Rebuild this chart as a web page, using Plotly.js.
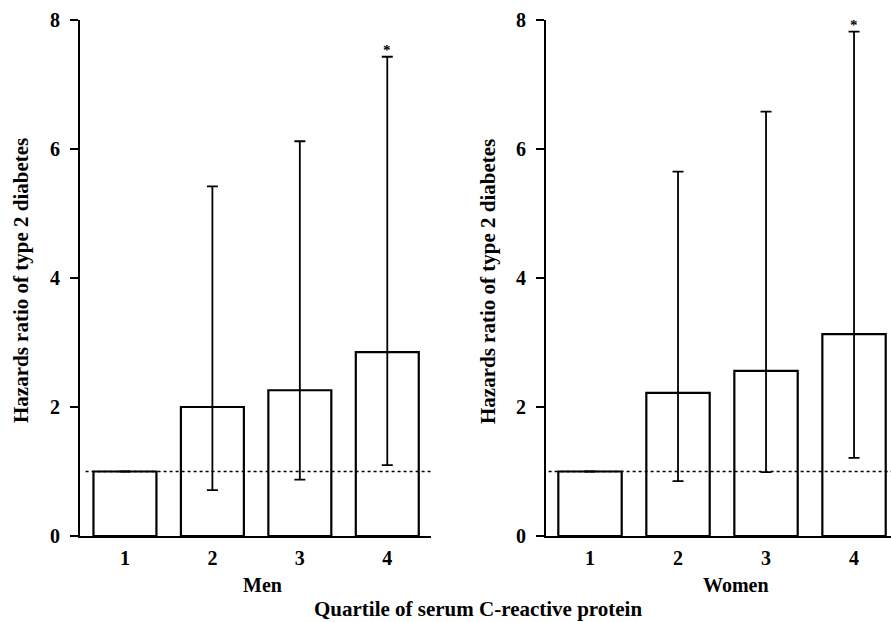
<!DOCTYPE html>
<html>
<head>
<meta charset="utf-8">
<script src="https://cdn.plot.ly/plotly-3.0.1.min.js"></script>
<style>html,body{margin:0;padding:0;background:#fff;}#chart{width:891px;height:622px;}</style>
</head>
<body>
<div id="chart"></div>
<script>
// ---- data ----
var quartiles = [1, 2, 3, 4];
var quartileLabels = ['1', '2', '3', '4'];
var menHR = [1.0, 2.0, 2.26, 2.85];
var menUpper = [null, 5.42, 6.12, 7.43];
var menLower = [null, 0.71, 0.875, 1.10];
var womenHR = [1.0, 2.22, 2.56, 3.13];
var womenUpper = [null, 5.65, 6.58, 7.82];
var womenLower = [null, 0.85, 0.99, 1.21];
var significant = [false, false, false, true];
var yTicks = [0, 2, 4, 6, 8];
var referenceHR = 1;

var W = 891, H = 622;
var FONT = 'Liberation Serif, Times New Roman, serif';
function px(x) { return x / W; }
function py(y) { return 1 - y / H; }

function barTrace(vals, up, lo, xa, ya) {
  return {
    type: 'bar', x: quartiles, y: vals, xaxis: xa, yaxis: ya,
    width: 0.72,
    marker: { color: '#ffffff', line: { color: '#000', width: 2.2 } },
    error_y: {
      type: 'data', symmetric: false,
      array: vals.map(function (v, i) { return up[i] == null ? null : up[i] - v; }),
      arrayminus: vals.map(function (v, i) { return lo[i] == null ? null : v - lo[i]; }),
      color: '#000', thickness: 1.8, width: 5.5,
      visible: true
    },
    hoverinfo: 'x+y', showlegend: false
  };
}

var traces = [
  barTrace(menHR, menUpper, menLower, 'x', 'y'),
  barTrace(womenHR, womenUpper, womenLower, 'x2', 'y2')
];

var tickFont = { family: FONT, size: 20, color: '#000', weight: 'bold' };
var yAxisBase = {
  range: [0, 8], tickvals: yTicks, ticktext: yTicks.map(String),
  showline: true, linecolor: '#000', linewidth: 2,
  ticks: 'outside', ticklen: 8, tickwidth: 2, tickcolor: '#000',
  ticklabelstandoff: 6,
  showgrid: false, zeroline: false,
  tickfont: tickFont
};
var xAxisBase = {
  tickvals: quartiles, ticktext: quartileLabels,
  showline: true, linecolor: '#000', linewidth: 2,
  ticks: '', showgrid: false, zeroline: false,
  ticklabelstandoff: 3,
  tickfont: tickFont
};

var yDomain = [py(536), py(20)];

var layout = {
  width: W, height: H,
  margin: { l: 0, r: 0, t: 0, b: 0 },
  paper_bgcolor: '#fff', plot_bgcolor: 'rgba(0,0,0,0)',
  font: { family: FONT, color: '#000', weight: 'bold' },
  showlegend: false,
  xaxis: Object.assign({}, xAxisBase, { domain: [px(80), px(431)], range: [0.486, 4.5], anchor: 'y' }),
  yaxis: Object.assign({}, yAxisBase, { domain: yDomain, anchor: 'x' }),
  xaxis2: Object.assign({}, xAxisBase, { domain: [px(546), 1], range: [0.5, 4.42], anchor: 'y2' }),
  yaxis2: Object.assign({}, yAxisBase, { domain: yDomain, anchor: 'x2' }),
  shapes: [
    { type: 'line', xref: 'x', yref: 'y', x0: 0.55, x1: 4.5, y0: referenceHR, y1: referenceHR,
      line: { color: '#000', width: 1.5, dash: 'dot' }, layer: 'above' },
    { type: 'line', xref: 'x2', yref: 'y2', x0: 0.53, x1: 4.42, y0: referenceHR, y1: referenceHR,
      line: { color: '#000', width: 1.5, dash: 'dot' }, layer: 'above' }
  ],
  annotations: []
};

var titleFont = { family: FONT, size: 21, color: '#000', weight: 'bold' };
var subFont = { family: FONT, size: 20, color: '#000', weight: 'bold' };
layout.annotations.push(
  { text: 'Hazards ratio of type 2 diabetes', xref: 'paper', yref: 'paper', x: px(21), y: py(281),
    textangle: -90, showarrow: false, font: titleFont, xanchor: 'center', yanchor: 'middle' },
  { text: 'Hazards ratio of type 2 diabetes', xref: 'paper', yref: 'paper', x: px(488), y: py(281),
    textangle: -90, showarrow: false, font: titleFont, xanchor: 'center', yanchor: 'middle' },
  { text: 'Men', xref: 'paper', yref: 'paper', x: px(262), y: py(585),
    showarrow: false, font: subFont, xanchor: 'center', yanchor: 'middle' },
  { text: 'Women', xref: 'paper', yref: 'paper', x: px(736), y: py(585),
    showarrow: false, font: subFont, xanchor: 'center', yanchor: 'middle' },
  { text: 'Quartile of serum C-reactive protein', xref: 'paper', yref: 'paper', x: px(478), y: py(609),
    showarrow: false, font: titleFont, xanchor: 'center', yanchor: 'middle' }
);
significant.forEach(function (s, i) {
  if (!s) return;
  layout.annotations.push(
    { text: '*', xref: 'x', yref: 'y', x: quartiles[i], y: menUpper[i], yshift: 7,
      showarrow: false, font: { family: FONT, size: 15, color: '#000' }, yanchor: 'middle' },
    { text: '*', xref: 'x2', yref: 'y2', x: quartiles[i], y: womenUpper[i], yshift: 7,
      showarrow: false, font: { family: FONT, size: 15, color: '#000' }, yanchor: 'middle' }
  );
});

Plotly.newPlot('chart', traces, layout, { staticPlot: true, displayModeBar: false });
</script>
</body>
</html>
